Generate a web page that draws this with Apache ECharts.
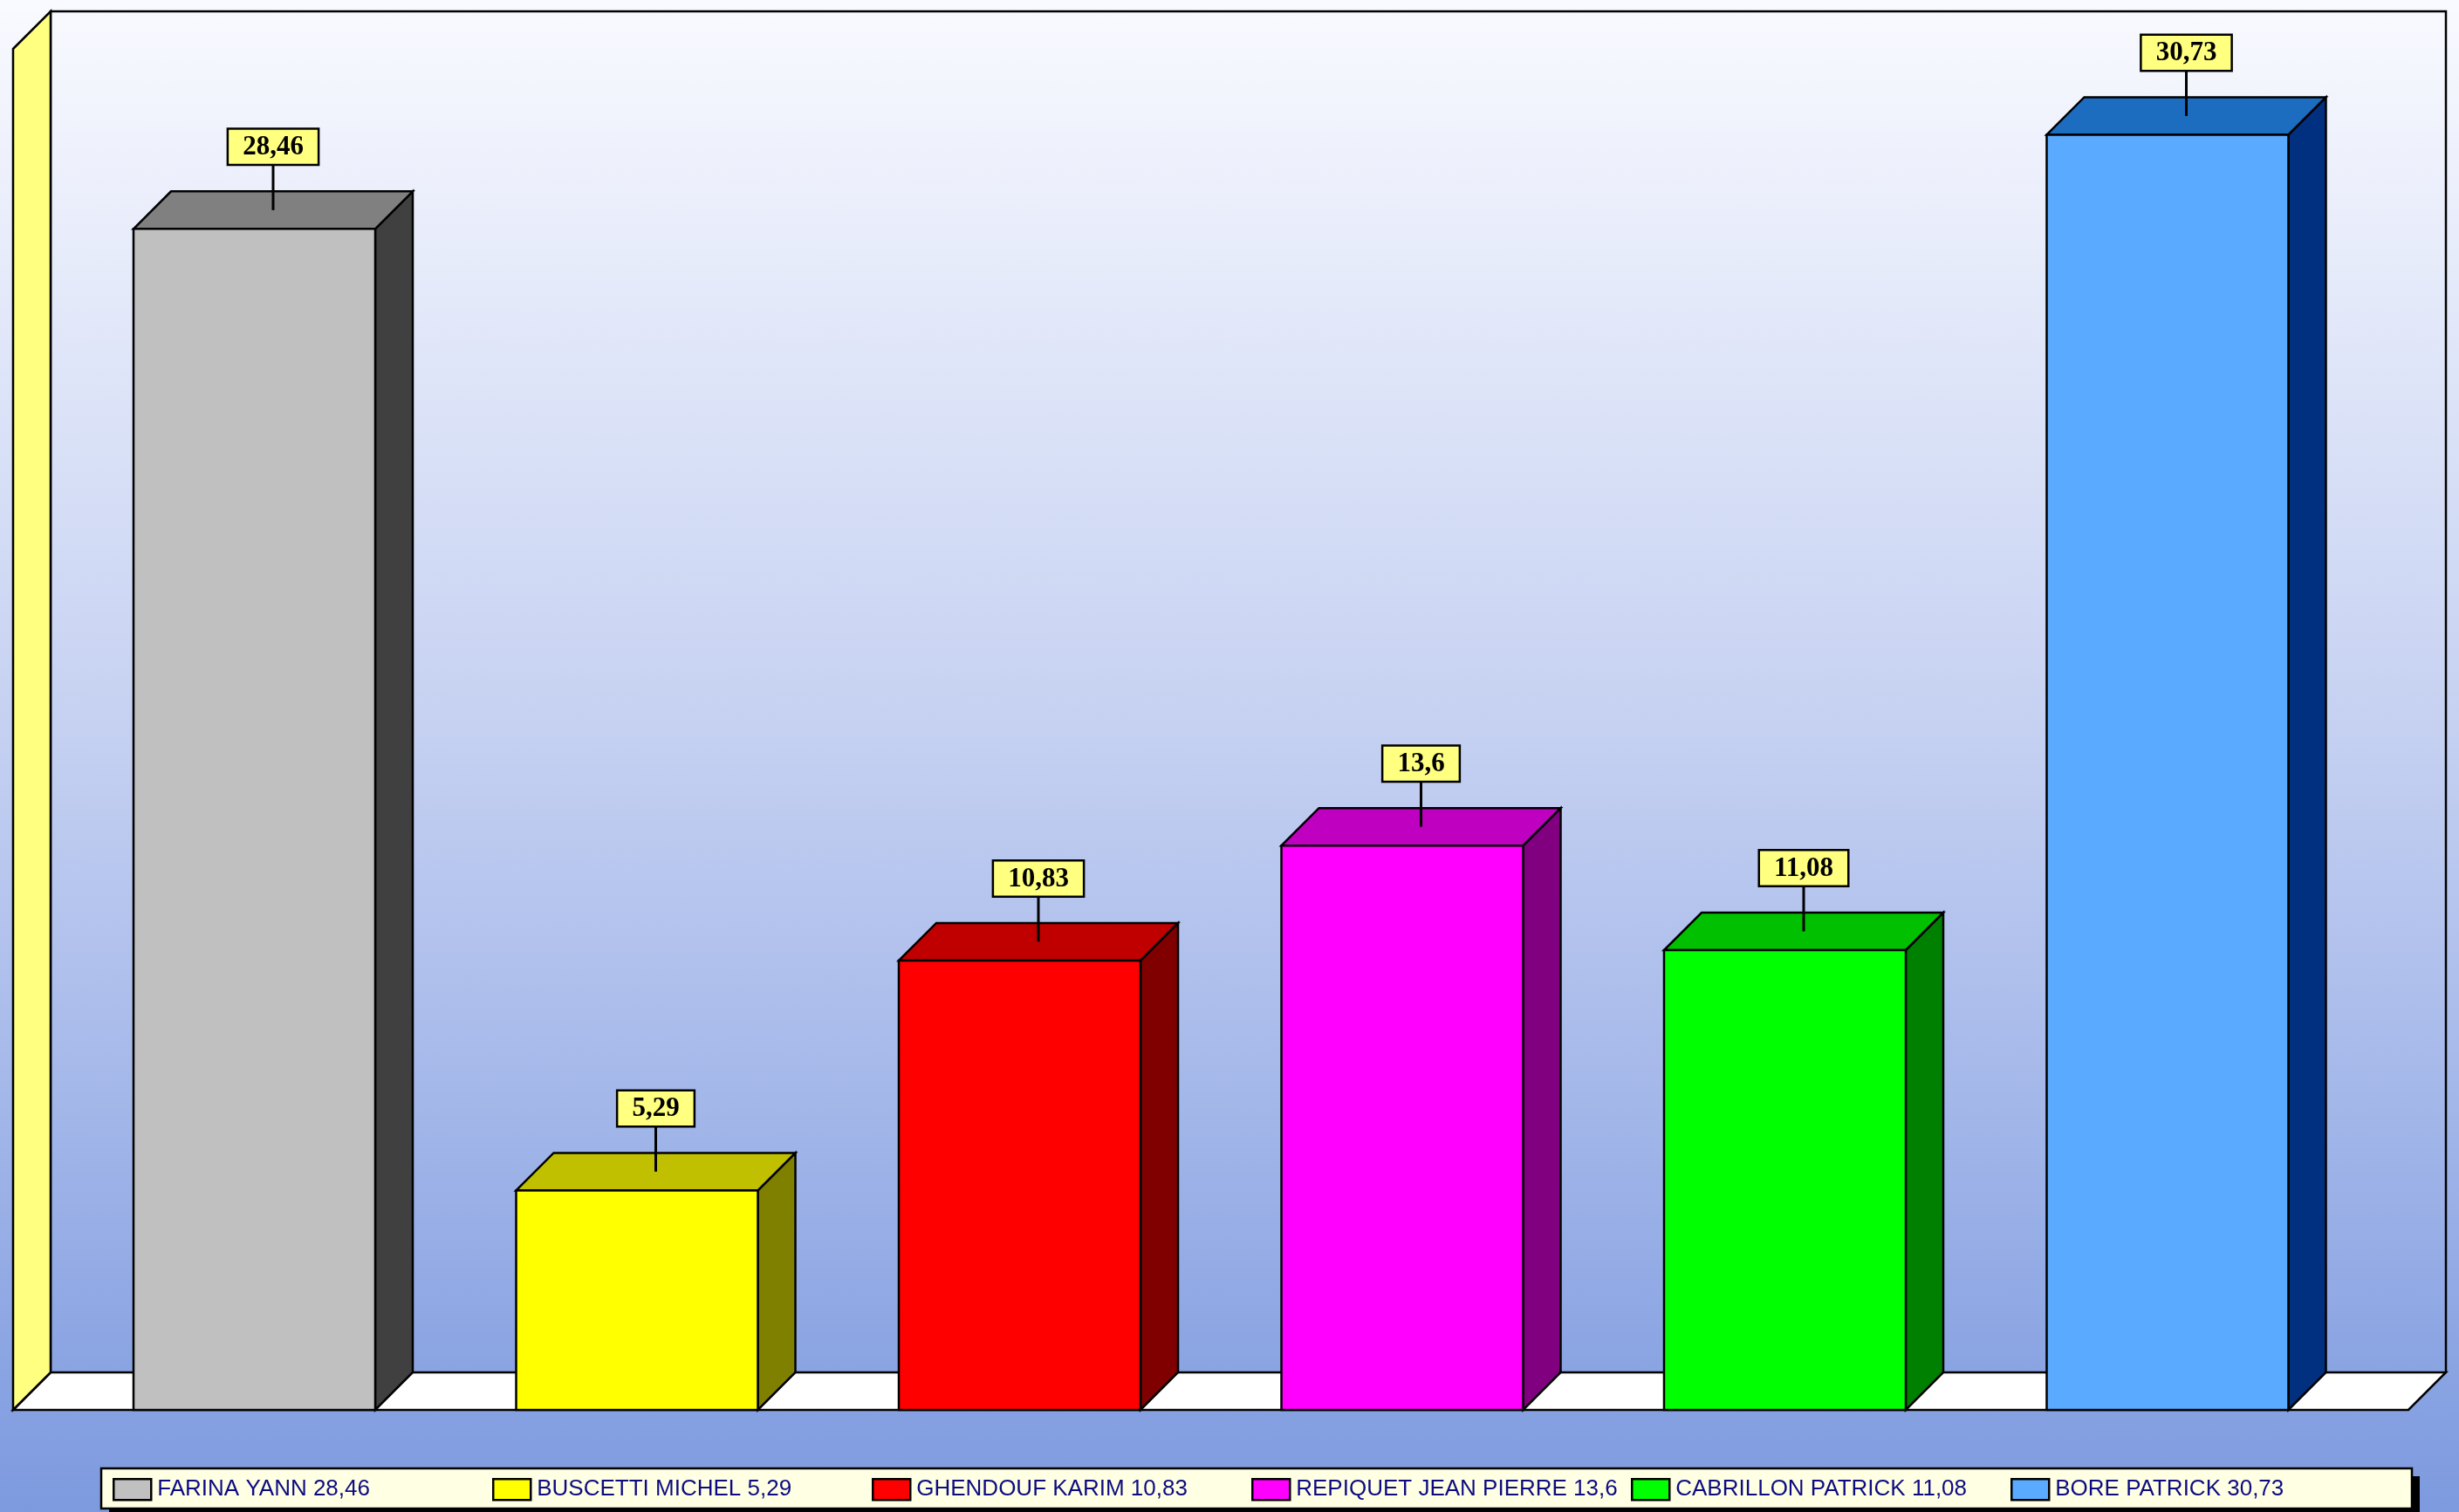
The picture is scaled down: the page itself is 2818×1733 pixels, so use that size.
<!DOCTYPE html>
<html><head><meta charset="utf-8">
<script src="https://cdn.jsdelivr.net/npm/echarts@6/dist/echarts.min.js"></script>
<style>html,body{margin:0;padding:0;background:#fff}#chart{width:2818px;height:1733px}</style>
</head><body><div id="chart"></div>
<script>
const categories = ['FARINA YANN', 'BUSCETTI MICHEL', 'GHENDOUF KARIM', 'REPIQUET JEAN PIERRE', 'CABRILLON PATRICK', 'BORE PATRICK'];
const values = [28.46, 5.29, 10.83, 13.6, 11.08, 30.73];
const frontColors = ['#C0C0C0', '#FFFF00', '#FF0000', '#FF00FF', '#00FF00', '#5AAAFF'];
const topColors = ['#808080', '#C0C000', '#C00000', '#C000C0', '#00C000', '#1C6CC0'];
const sideColors = ['#404040', '#808000', '#800000', '#800080', '#008000', '#00307F'];

const fmt = v => String(v).replace('.', ',');
const legendNames = categories.map((c, i) => c + ' ' + fmt(values[i]));

const W = 2818, H = 1733;
const GRID = { left: 72.25, right: 114.75, top: 94, bottom: 117 };
const D = 43;               // 3D depth offset
const floorY = H - GRID.bottom;
const frontL = 15, frontR = 2760;

const chart = echarts.init(document.getElementById('chart'), null, { renderer: 'canvas' });

function renderBar(i) {
  return function (params, api) {
    const cat = api.value(0), v = api.value(1);
    const pt = api.coord([cat, v]);
    const p0 = api.coord([cat, 0]);
    const bw = api.size([1, 0])[0] * 0.6317;
    const x0 = pt[0] - bw / 2, x1 = pt[0] + bw / 2;
    const yT = pt[1], yB = p0[1];
    const st = { stroke: '#000', lineWidth: 2.5, lineJoin: 'miter' };
    const lx = pt[0] + D / 2, ly = yT - D / 2;
    return {
      type: 'group',
      children: [
        { type: 'polygon', shape: { points: [[x1, yT], [x1 + D, yT - D], [x1 + D, yB - D], [x1, yB]] },
          style: Object.assign({ fill: sideColors[i] }, st) },
        { type: 'polygon', shape: { points: [[x0, yT], [x0 + D, yT - D], [x1 + D, yT - D], [x1, yT]] },
          style: Object.assign({ fill: topColors[i] }, st) },
        { type: 'rect', shape: { x: x0, y: yT, width: bw, height: yB - yT },
          style: Object.assign({ fill: frontColors[i] }, st) },
        { type: 'line', shape: { x1: lx, y1: ly, x2: lx, y2: ly - 53 },
          style: { stroke: '#000', lineWidth: 3 } },
        { type: 'text', x: lx, y: ly - 53,
          style: { text: fmt(v), align: 'center', verticalAlign: 'bottom',
            font: 'bold 31px "Liberation Serif"', fill: '#000',
            backgroundColor: '#FFFF80', borderColor: '#000', borderWidth: 2.5,
            padding: [5, 16, 3, 16] } }
      ]
    };
  };
}

const option = {
  animation: false,
  graphic: [
    { type: 'rect', z: -100, shape: { x: 0, y: 0, width: W, height: H },
      style: { fill: { type: 'linear', x: 0, y: 0, x2: 0, y2: 1,
        colorStops: [{ offset: 0, color: '#F9FAFF' }, { offset: 0.5, color: '#C3CFF1' }, { offset: 1, color: '#7D9ADF' }] } } },
    // back wall outline
    { type: 'polyline', z: 0, shape: { points: [[frontL + D, floorY - D], [frontL + D, 13], [frontR + D, 13], [frontR + D, floorY - D]] },
      style: { stroke: '#000', lineWidth: 2.5, fill: null } },
    // floor
    { type: 'polygon', z: 0, shape: { points: [[frontL, floorY], [frontL + D, floorY - D], [frontR + D, floorY - D], [frontR, floorY]] },
      style: { fill: '#FFFFFF', stroke: '#000', lineWidth: 2.5 } },
    // left wall
    { type: 'polygon', z: 0, shape: { points: [[frontL, 56], [frontL + D, 13], [frontL + D, floorY - D], [frontL, floorY]] },
      style: { fill: '#FFFF80', stroke: '#000', lineWidth: 2.5 } },
    // legend box shadow and box
    { type: 'rect', z: 0, shape: { x: 125, y: 1692, width: 2648, height: 50 }, style: { fill: '#000' } },
    { type: 'rect', z: 1, shape: { x: 116, y: 1683, width: 2648, height: 46 },
      style: { fill: '#FFFFE4', stroke: '#000', lineWidth: 2.5 } }
  ],
  grid: { left: GRID.left, right: GRID.right, top: GRID.top, bottom: GRID.bottom },
  xAxis: { type: 'category', data: categories, show: false },
  yAxis: { type: 'value', min: 0, max: 32, interval: 8, show: false, splitLine: { show: false } },
  legend: categories.map((c, i) => ({
    data: [{ name: legendNames[i], icon: 'rect',
      itemStyle: { color: frontColors[i], borderColor: '#000', borderWidth: 2.5 } }],
    left: 129 + 435 * i, top: 1694, itemWidth: 43, itemHeight: 24, padding: 0, selectedMode: false, z: 5,
    textStyle: { color: '#0C0C82', fontSize: 26, fontFamily: 'Liberation Sans', padding: [0, 0, 0, 2] }
  })),
  series: categories.map((c, i) => ({
    type: 'custom',
    name: legendNames[i],
    itemStyle: { color: frontColors[i] },
    encode: { x: 0, y: 1 },
    data: [[i, values[i]]],
    renderItem: renderBar(i),
    z: 2
  }))
};
chart.setOption(option);
</script>
</body></html>
